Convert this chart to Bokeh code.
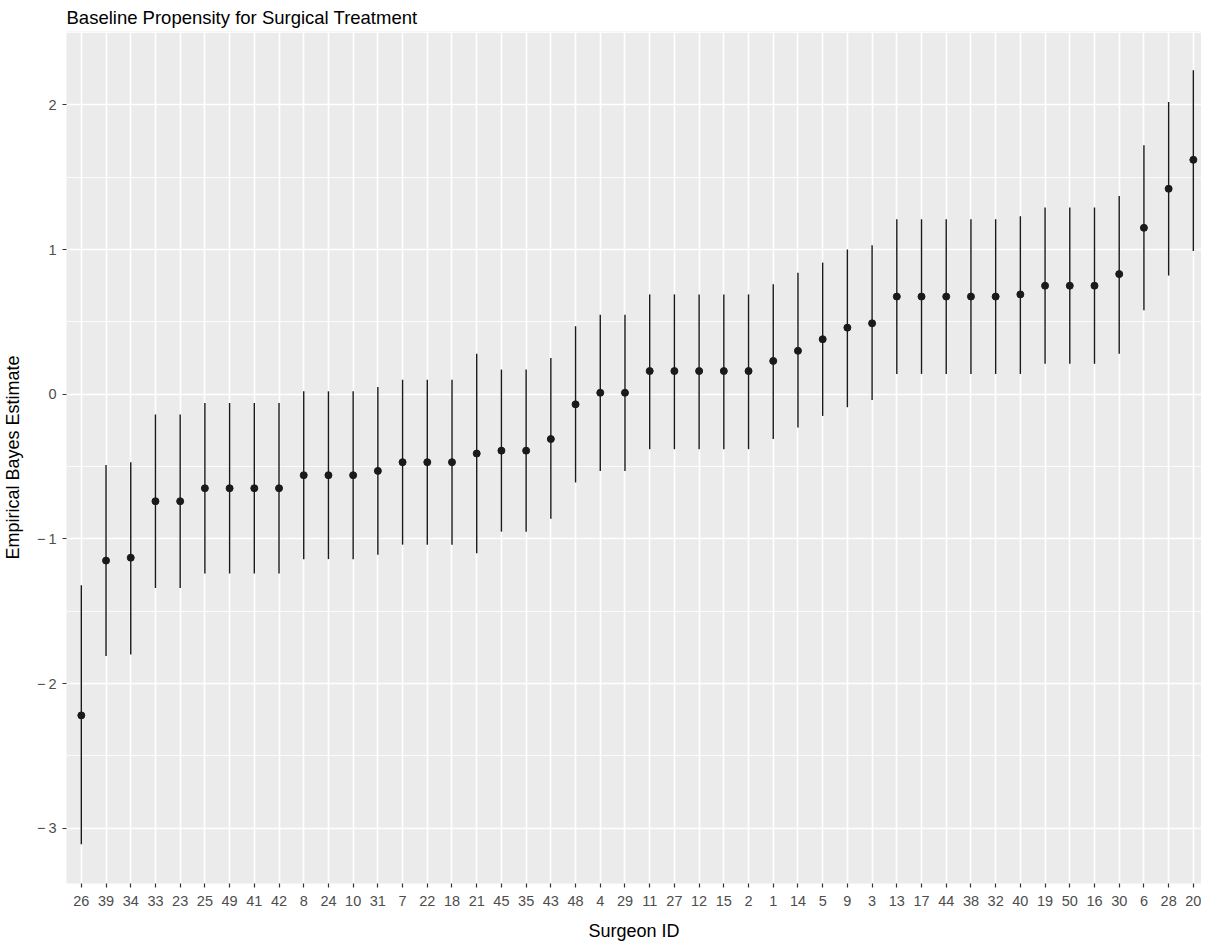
from bokeh.plotting import figure
from bokeh.models import ColumnDataSource, Range1d, FixedTicker
from bokeh.embed import file_html
from bokeh.resources import INLINE

surgeon_ids = ["26", "39", "34", "33", "23", "25", "49", "41", "42", "8", "24", "10", "31", "7",
               "22", "18", "21", "45", "35", "43", "48", "4", "29", "11", "27", "12", "15", "2",
               "1", "14", "5", "9", "3", "13", "17", "44", "38", "32", "40", "19", "50", "16",
               "30", "6", "28", "20"]
estimate = [-2.22, -1.15, -1.13, -0.74, -0.74, -0.65, -0.65, -0.65, -0.65, -0.56, -0.56, -0.56,
            -0.53, -0.47, -0.47, -0.47, -0.41, -0.39, -0.39, -0.31, -0.07, 0.01, 0.01, 0.16,
            0.16, 0.16, 0.16, 0.16, 0.23, 0.30, 0.38, 0.46, 0.49, 0.675, 0.675, 0.675, 0.675,
            0.675, 0.69, 0.75, 0.75, 0.75, 0.83, 1.15, 1.42, 1.62]
lower = [-3.11, -1.81, -1.80, -1.34, -1.34, -1.24, -1.24, -1.24, -1.24, -1.14, -1.14, -1.14,
         -1.11, -1.04, -1.04, -1.04, -1.10, -0.95, -0.95, -0.86, -0.61, -0.53, -0.53, -0.38,
         -0.38, -0.38, -0.38, -0.38, -0.31, -0.23, -0.15, -0.09, -0.04, 0.14, 0.14, 0.14, 0.14,
         0.14, 0.14, 0.21, 0.21, 0.21, 0.28, 0.58, 0.82, 0.99]
upper = [-1.32, -0.49, -0.47, -0.14, -0.14, -0.06, -0.06, -0.06, -0.06, 0.02, 0.02, 0.02,
         0.05, 0.10, 0.10, 0.10, 0.28, 0.17, 0.17, 0.25, 0.47, 0.55, 0.55, 0.69,
         0.69, 0.69, 0.69, 0.69, 0.76, 0.84, 0.91, 1.00, 1.03, 1.21, 1.21, 1.21, 1.21,
         1.21, 1.23, 1.29, 1.29, 1.29, 1.37, 1.72, 2.02, 2.24]
y_ticks = [-3, -2, -1, 0, 1, 2]
y_tick_labels = ["\u2212\u20093", "\u2212\u20092", "\u2212\u20091", "0", "1", "2"]

pos = list(range(1, len(surgeon_ids) + 1))
src = ColumnDataSource(dict(x=pos, est=estimate, lo=lower, hi=upper))

FONT = "Liberation Sans"

p = figure(width=1201, height=943, output_backend="svg", toolbar_location=None,
           x_range=Range1d(0.4, 46.33), y_range=Range1d(-3.382, 2.507),
           min_border_left=62, min_border_right=0, min_border_top=29, min_border_bottom=58,
           background_fill_color="#EBEBEB", border_fill_color="white", outline_line_color=None,
           title="Baseline Propensity for Surgical Treatment")

p.title.text_font = FONT
p.title.text_font_size = "18.5px"
p.title.text_font_style = "normal"
p.title.text_color = "black"
p.title.align = "left"
p.title.standoff = 8

# grids
p.xgrid.ticker = FixedTicker(ticks=pos)
p.xgrid.grid_line_color = "white"
p.xgrid.grid_line_width = 1.6
p.ygrid.ticker = FixedTicker(ticks=y_ticks, minor_ticks=[-3.5, -2.5, -1.5, -0.5, 0.5, 1.5, 2.5])
p.ygrid.grid_line_color = "white"
p.ygrid.grid_line_width = 1.6
p.ygrid.minor_grid_line_color = "white"
p.ygrid.minor_grid_line_width = 0.8

# axes
p.xaxis.ticker = FixedTicker(ticks=pos)
p.xaxis.major_label_overrides = {i: s for i, s in zip(pos, surgeon_ids)}
p.yaxis.ticker = FixedTicker(ticks=y_ticks)
p.yaxis.major_label_overrides = {t: s for t, s in zip(y_ticks, y_tick_labels)}
for ax in (p.xaxis, p.yaxis):
    ax.axis_line_color = None
    ax.major_tick_line_color = "#333333"
    ax.major_tick_line_width = 1.2
    ax.major_tick_out = 4
    ax.major_tick_in = 0
    ax.minor_tick_line_color = None
    ax.major_label_text_font = FONT
    ax.major_label_text_font_size = "14.5px"
    ax.major_label_text_color = "#4D4D4D"
    ax.axis_label_text_font = FONT
    ax.axis_label_text_font_size = "18px"
    ax.axis_label_text_font_style = "normal"
    ax.axis_label_text_color = "black"
p.xaxis.axis_label = "Surgeon ID"
p.yaxis.axis_label = "Empirical Bayes Estimate"
p.xaxis.major_label_standoff = 8
p.xaxis.axis_label_standoff = 12
p.yaxis.major_label_standoff = 6
p.yaxis.axis_label_standoff = 11

p.segment(x0="x", y0="lo", x1="x", y1="hi", source=src, line_color="#1A1A1A", line_width=1.4)
p.scatter(x="x", y="est", source=src, size=7, fill_color="#1A1A1A", line_color="#1A1A1A")

open("out.html", "w").write(file_html(p, INLINE))
